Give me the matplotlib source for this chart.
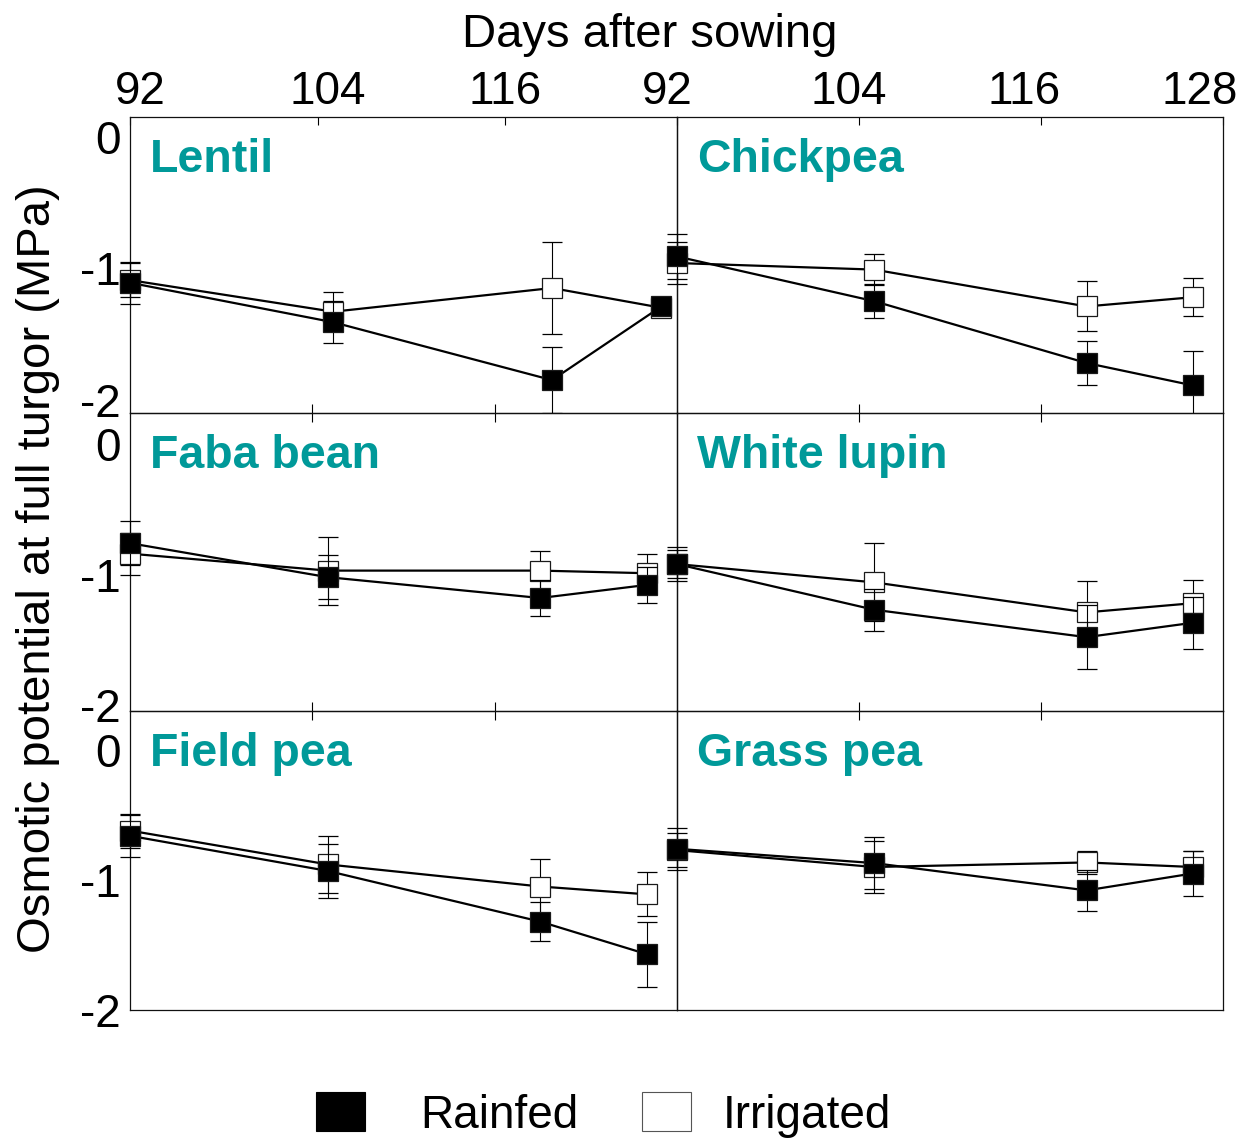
import matplotlib
matplotlib.use("Agg")
import matplotlib.pyplot as plt
import matplotlib.transforms as mtransforms
from matplotlib.patches import Rectangle

plt.rcParams['font.family'] = ['Liberation Sans', 'DejaVu Sans']
plt.rcParams['axes.unicode_minus'] = False

# Sampling days (days after sowing)
days = [92, 105, 119, 126]

crops = ["Lentil", "Chickpea", "Faba bean", "White lupin", "Field pea", "Grass pea"]

# Osmotic potential at full turgor (MPa): means and standard errors
lentil_rainfed = [-1.11, -1.41, -1.85, -1.29]
lentil_rainfed_err = [0.16, 0.16, 0.25, 0.03]
lentil_irrigated = [-1.09, -1.33, -1.15, -1.30]
lentil_irrigated_err = [0.13, 0.15, 0.35, 0.03]

chickpea_rainfed = [-0.91, -1.25, -1.72, -1.89]
chickpea_rainfed_err = [0.17, 0.13, 0.17, 0.26]
chickpea_irrigated = [-0.96, -1.01, -1.29, -1.22]
chickpea_irrigated_err = [0.16, 0.12, 0.19, 0.145]

faba_rainfed = [-0.76, -1.02, -1.18, -1.08]
faba_rainfed_err = [0.17, 0.17, 0.135, 0.14]
faba_irrigated = [-0.84, -0.97, -0.97, -0.99]
faba_irrigated_err = [0.16, 0.26, 0.15, 0.15]

lupin_rainfed = [-0.92, -1.27, -1.48, -1.37]
lupin_rainfed_err = [0.11, 0.16, 0.245, 0.20]
lupin_irrigated = [-0.92, -1.06, -1.29, -1.22]
lupin_irrigated_err = [0.13, 0.30, 0.24, 0.18]

fieldpea_rainfed = [-0.66, -0.93, -1.32, -1.57]
fieldpea_rainfed_err = [0.16, 0.21, 0.15, 0.25]
fieldpea_irrigated = [-0.62, -0.88, -1.05, -1.11]
fieldpea_irrigated_err = [0.13, 0.22, 0.21, 0.17]

grasspea_rainfed = [-0.76, -0.87, -1.08, -0.95]
grasspea_rainfed_err = [0.16, 0.20, 0.155, 0.175]
grasspea_irrigated = [-0.77, -0.90, -0.865, -0.90]
grasspea_irrigated_err = [0.13, 0.20, 0.09, 0.125]

rainfed = [lentil_rainfed, chickpea_rainfed, faba_rainfed,
           lupin_rainfed, fieldpea_rainfed, grasspea_rainfed]
rainfed_err = [lentil_rainfed_err, chickpea_rainfed_err, faba_rainfed_err,
               lupin_rainfed_err, fieldpea_rainfed_err, grasspea_rainfed_err]
irrigated = [lentil_irrigated, chickpea_irrigated, faba_irrigated,
             lupin_irrigated, fieldpea_irrigated, grasspea_irrigated]
irrigated_err = [lentil_irrigated_err, chickpea_irrigated_err, faba_irrigated_err,
                 lupin_irrigated_err, fieldpea_irrigated_err, grasspea_irrigated_err]

top_ticks_left = [92, 104, 116]
top_ticks_right = [92, 104, 116, 128]
y_ticks = [0, -1, -2]
y_tick_labels = ['0', '-1', '-2']

W, H = 1245, 1144
fig = plt.figure(figsize=(W / 100, H / 100), dpi=100)

cols = [(130, 547), (677, 546)]
rows = [(117, 413), (413, 711), (711, 1010)]
ylims = [(-2.10, 0.15), (-2.046, 0.238), (-2.0, 0.30)]
teal = '#009999'
FS = 33


def shift_labels(labels, shifts_px):
    for lab, dx in zip(labels, shifts_px):
        off = mtransforms.ScaledTranslation(dx / 100, 0, fig.dpi_scale_trans)
        lab.set_transform(lab.get_transform() + off)


def draw_series(ax, y, err, face, z):
    data_line, caplines, barcols = ax.errorbar(
        days, y, yerr=err, fmt='-s', color='black', lw=1.6,
        ms=15, mfc=face, mec='#1a1a1a', mew=0.9,
        ecolor='black', elinewidth=0.8, capsize=7,
        capthick=0.8, zorder=z)
    # markers may spill over the side frames; error bars stop at the bottom frame
    data_line.set_clip_on(False)
    clip = Rectangle((-0.1, 0), 1.2, 1.2, transform=ax.transAxes,
                     facecolor='none', edgecolor='none')
    for art in list(caplines) + list(barcols):
        art.set_clip_path(clip)


for i, crop in enumerate(crops):
    r, c = divmod(i, 2)
    x0, w = cols[c]
    top, bot = rows[r]
    ax = fig.add_axes([x0 / W, 1 - bot / H, w / W, (bot - top) / H])
    ax.set_facecolor('none')
    ax.set_xlim(92, 127 if i == 0 else 128)
    ax.set_ylim(*ylims[r])
    for sp in ax.spines.values():
        sp.set_linewidth(0.9)
        sp.set_color('#111111')

    draw_series(ax, irrigated[i], irrigated_err[i], 'white', 3)
    draw_series(ax, rainfed[i], rainfed_err[i], 'black', 4)

    # y axis: labels on the left column only, no tick marks
    ax.set_yticks(y_ticks)
    if c == 0:
        ax.set_yticklabels(y_tick_labels, fontsize=FS)
        ax.tick_params(axis='y', length=0, pad=6.5)
    else:
        ax.tick_params(axis='y', length=0, labelleft=False)

    # x axis
    if r == 0:
        ax.set_xticks(top_ticks_left if c == 0 else top_ticks_right)
        ax.tick_params(axis='x', bottom=False, labelbottom=False,
                       top=True, labeltop=True, direction='in',
                       length=6, width=0.8, pad=2, labelsize=FS)
        if c == 0:
            shift_labels(ax.get_xticklabels(), [10, 10, 0])
        else:
            shift_labels(ax.get_xticklabels(), [-10, -10, -17, -23])
    else:
        ax.set_xticks([104, 116])
        ax.tick_params(axis='x', bottom=False, labelbottom=False,
                       top=True, labeltop=False, direction='inout',
                       length=13, width=0.8)

    ax.annotate(crop, xy=(0, 1), xycoords='axes fraction',
                xytext=(20 * 0.72, -21 * 0.72), textcoords='offset points',
                ha='left', va='top', fontsize=33.5, fontweight='bold',
                color=teal)

fig.text(650 / W, 1 - 35 / H, 'Days after sowing', ha='center', va='center',
         fontsize=34)
fig.text(38 / W, 1 - 569 / H, 'Osmotic potential at full turgor (MPa)',
         ha='center', va='center', rotation=90, fontsize=34)

# Treatment key below the panels
key_entries = [
    ('Rainfed', 'black', 'black', 316, 1.2),
    ('Irrigated', 'white', '#555555', 642, 0.7),
]
for label, face, edge, left_px, pad in key_entries:
    patch = Rectangle((0, 0), 1, 1, facecolor=face, edgecolor=edge, lw=0.8)
    fig.legend([patch], [label], loc='center left',
               bbox_to_anchor=(left_px / W, 1 - 1115 / H), frameon=False,
               fontsize=FS, handlelength=1.07, handleheight=0.92,
               handletextpad=pad, borderpad=0, borderaxespad=0)

fig.savefig('out.png', dpi=100)
